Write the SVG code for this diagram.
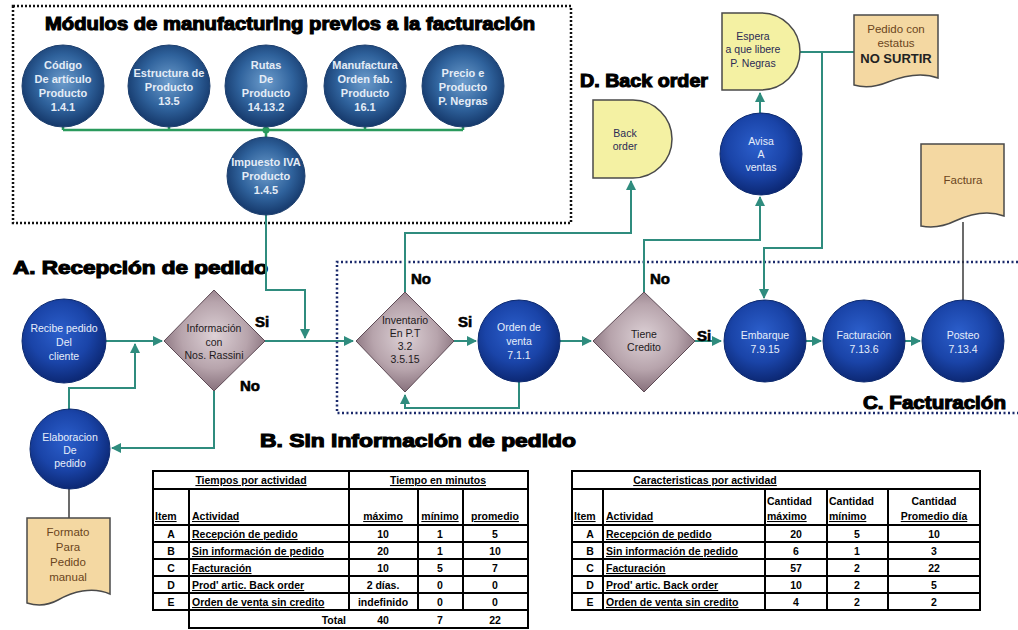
<svg xmlns="http://www.w3.org/2000/svg" width="1018" height="630" viewBox="0 0 1018 630">
  <defs>
    <radialGradient id="gMod" cx="50%" cy="45%" r="55%">
      <stop offset="0" stop-color="#6c9ccc"/>
      <stop offset="0.6" stop-color="#2f629c"/>
      <stop offset="1" stop-color="#15386a"/>
    </radialGradient>
    <radialGradient id="gBlue" cx="45%" cy="40%" r="60%">
      <stop offset="0" stop-color="#2c5fcc"/>
      <stop offset="0.6" stop-color="#1a44a8"/>
      <stop offset="1" stop-color="#0c2874"/>
    </radialGradient>
    <radialGradient id="gDia" cx="50%" cy="45%" r="60%">
      <stop offset="0" stop-color="#ddd1d6"/>
      <stop offset="0.55" stop-color="#b7a4ac"/>
      <stop offset="1" stop-color="#7b6470"/>
    </radialGradient>
    <marker id="arr" viewBox="0 0 10 10" refX="9" refY="5" markerWidth="5" markerHeight="5" orient="auto">
      <path d="M0,0 L10,5 L0,10 Z" fill="#2f8c7e"/>
    </marker>
    <style>
      .mod { fill: url(#gMod); stroke: #1d3f6e; stroke-width: 1; }
      .blue { fill: url(#gBlue); stroke: #0d2a70; stroke-width: 1; }
      .dia { fill: url(#gDia); stroke: #5e4a55; stroke-width: 1; }
      .delay { fill: #f4f1a3; stroke: #4a4a4a; stroke-width: 1.5; }
      .doc { fill: #f4d8a2; stroke: #4a4a4a; stroke-width: 1.5; }
      .mt { font-family: "Liberation Sans", Arial, sans-serif; font-size: 11px; font-weight: bold; fill: #e4ecf6; text-anchor: middle; }
      .ct { font-family: "Liberation Sans", Arial, sans-serif; font-size: 10.5px; fill: #e6eefa; text-anchor: middle; }
      .dt { font-family: "Liberation Sans", Arial, sans-serif; font-size: 10.5px; fill: #1e1a1c; text-anchor: middle; }
      .yt { font-family: "Liberation Sans", Arial, sans-serif; font-size: 10.5px; fill: #2a2a55; text-anchor: middle; }
      .bt { font-family: "Liberation Sans", Arial, sans-serif; font-size: 11.5px; fill: #6b4520; text-anchor: middle; }
      .h { font-family: "Liberation Sans", Arial, sans-serif; font-size: 18px; font-weight: bold; fill: #000; stroke: #000; stroke-width: 1.1; }
      .lbl { font-family: "Liberation Sans", Arial, sans-serif; font-size: 15px; font-weight: bold; fill: #000; stroke: #000; stroke-width: 0.6; }
      .con { fill: none; stroke: #2f8c7e; stroke-width: 2; }
      .grn { fill: none; stroke: #2a9a5c; stroke-width: 2.5; }
      .dk { fill: none; stroke: #3a3a3a; stroke-width: 1.5; }
      .tb { fill: none; stroke: #000; stroke-width: 2; }
      .tt { font-family: "Liberation Sans", Arial, sans-serif; font-size: 10.5px; font-weight: bold; fill: #000; }
      .u { text-decoration: underline; }
      .c { text-anchor: middle; }
    </style>
  </defs>

  <rect width="1018" height="630" fill="#ffffff"/>

  <!-- dotted region frames -->
  <g id="frames">
    <rect x="13" y="6" width="558" height="217" fill="none" stroke="#111" stroke-width="2.5" stroke-dasharray="2 2"/>
    <path d="M1018,262 H337 V413 H1018" fill="none" stroke="#1b2a6b" stroke-width="2.5" stroke-dasharray="2 2.5"/>
  </g>

  <!-- section titles -->
  <g id="titles">
    <text class="h" x="45" y="30" textLength="490" lengthAdjust="spacingAndGlyphs">Módulos de manufacturing previos a la facturación</text>
    <text class="h" x="13" y="274" textLength="255" lengthAdjust="spacingAndGlyphs">A. Recepción de pedido</text>
    <text class="h" x="260" y="447" textLength="316" lengthAdjust="spacingAndGlyphs">B. Sin información de pedido</text>
    <text class="h" x="863" y="409" textLength="143" lengthAdjust="spacingAndGlyphs">C. Facturación</text>
    <text class="h" x="580" y="87" textLength="128" lengthAdjust="spacingAndGlyphs">D. Back order</text>
  </g>

  <!-- connectors -->
  <g id="connectors">
    <path class="grn" d="M63,127 V130 M169,127 V130 M266,127 V130 M365,127 V130 M463,127 V130 M63,130 H463 M266,130 V137"/>
    <circle cx="266" cy="130" r="3.5" fill="#2a9a5c"/>
    <path class="con" d="M266,215 V290 H305 V338" marker-end="url(#arr)"/>
    <path class="con" d="M106,341 H162" marker-end="url(#arr)"/>
    <path class="con" d="M265,341 H353" marker-end="url(#arr)"/>
    <path class="con" d="M214,391 V448 H112" marker-end="url(#arr)"/>
    <path class="con" d="M69,410 V388 H135 V344" marker-end="url(#arr)"/>
    <path class="dk" d="M69,488 V518"/>
    <path class="con" d="M454,341 H476" marker-end="url(#arr)"/>
    <path class="con" d="M519,382 V408 H405 V395" marker-end="url(#arr)"/>
    <path class="con" d="M405,292 V233 H631 V181" marker-end="url(#arr)"/>
    <path class="con" d="M560,341 H591" marker-end="url(#arr)"/>
    <path class="con" d="M644,292 V240 H760 V197" marker-end="url(#arr)"/>
    <path class="con" d="M760,113 V93" marker-end="url(#arr)"/>
    <path class="con" d="M800,52 H854"/>
    <path class="con" d="M822,52 V248 H764 V298" marker-end="url(#arr)"/>
    <path class="con" d="M695,341 H721" marker-end="url(#arr)"/>
    <path class="con" d="M806,341 H821" marker-end="url(#arr)"/>
    <path class="con" d="M905,341 H920" marker-end="url(#arr)"/>
    <path class="dk" d="M963,300 V222"/>
  </g>

  <!-- manufacturing modules -->
  <g id="codigo">
    <circle class="mod" cx="63" cy="86" r="41"/>
    <text class="mt"><tspan x="63" y="69">Código</tspan><tspan x="63" y="83">De artículo</tspan><tspan x="63" y="97">Producto</tspan><tspan x="63" y="111">1.4.1</tspan></text>
  </g>
  <g id="estructura">
    <circle class="mod" cx="169" cy="86" r="41"/>
    <text class="mt"><tspan x="169" y="77">Estructura de</tspan><tspan x="169" y="91">Producto</tspan><tspan x="169" y="105">13.5</tspan></text>
  </g>
  <g id="rutas">
    <circle class="mod" cx="266" cy="86" r="41"/>
    <text class="mt"><tspan x="266" y="69">Rutas</tspan><tspan x="266" y="83">De</tspan><tspan x="266" y="97">Producto</tspan><tspan x="266" y="111">14.13.2</tspan></text>
  </g>
  <g id="manufactura">
    <circle class="mod" cx="365" cy="86" r="41"/>
    <text class="mt"><tspan x="365" y="69">Manufactura</tspan><tspan x="365" y="83">Orden fab.</tspan><tspan x="365" y="97">Producto</tspan><tspan x="365" y="111">16.1</tspan></text>
  </g>
  <g id="precio">
    <circle class="mod" cx="463" cy="86" r="41"/>
    <text class="mt"><tspan x="463" y="77">Precio e</tspan><tspan x="463" y="91">Producto</tspan><tspan x="463" y="105">P. Negras</tspan></text>
  </g>
  <g id="impuesto">
    <circle class="mod" cx="266" cy="176" r="39"/>
    <text class="mt"><tspan x="266" y="166">Impuesto IVA</tspan><tspan x="266" y="180">Producto</tspan><tspan x="266" y="194">1.4.5</tspan></text>
  </g>

  <!-- A. order reception -->
  <g id="recibe">
    <circle class="blue" cx="64" cy="341" r="42"/>
    <text class="ct"><tspan x="64" y="332">Recibe pedido</tspan><tspan x="64" y="346">Del</tspan><tspan x="64" y="360">cliente</tspan></text>
  </g>
  <g id="informacion">
    <polygon class="dia" points="164,341 214,290 265,341 214,391"/>
    <text class="dt"><tspan x="214" y="332">Información</tspan><tspan x="214" y="346">con</tspan><tspan x="214" y="359">Nos. Rassini</tspan></text>
  </g>
  <g id="elaboracion">
    <circle class="blue" cx="70" cy="449" r="40"/>
    <text class="ct"><tspan x="70" y="441">Elaboracion</tspan><tspan x="70" y="454">De</tspan><tspan x="70" y="467">pedido</tspan></text>
  </g>
  <g id="formato">
    <path class="doc" d="M27,518 H110 V594 C92,586 72,592 58,600 C47,606 37,606 27,603 Z"/>
    <text class="bt"><tspan x="68" y="536">Formato</tspan><tspan x="68" y="551">Para</tspan><tspan x="68" y="566">Pedido</tspan><tspan x="68" y="581">manual</tspan></text>
  </g>

  <!-- B / C flow -->
  <g id="inventario">
    <polygon class="dia" points="356,341 405,292 454,341 405,392"/>
    <text class="dt"><tspan x="405" y="324">Inventario</tspan><tspan x="405" y="337">En P.T</tspan><tspan x="405" y="350">3.2</tspan><tspan x="405" y="363">3.5.15</tspan></text>
  </g>
  <g id="orden">
    <circle class="blue" cx="519" cy="341" r="41"/>
    <text class="ct"><tspan x="519" y="331">Orden de</tspan><tspan x="519" y="345">venta</tspan><tspan x="519" y="359">7.1.1</tspan></text>
  </g>
  <g id="credito">
    <polygon class="dia" points="593,341 644,292 695,341 644,392"/>
    <text class="dt"><tspan x="644" y="338">Tiene</tspan><tspan x="644" y="351">Credito</tspan></text>
  </g>
  <g id="embarque">
    <circle class="blue" cx="765" cy="341" r="41"/>
    <text class="ct"><tspan x="765" y="339">Embarque</tspan><tspan x="765" y="353">7.9.15</tspan></text>
  </g>
  <g id="facturacion">
    <circle class="blue" cx="864" cy="341" r="41"/>
    <text class="ct"><tspan x="864" y="339">Facturación</tspan><tspan x="864" y="353">7.13.6</tspan></text>
  </g>
  <g id="posteo">
    <circle class="blue" cx="963" cy="341" r="41"/>
    <text class="ct"><tspan x="963" y="339">Posteo</tspan><tspan x="963" y="353">7.13.4</tspan></text>
  </g>
  <g id="factura">
    <path class="doc" d="M921,144 H1004 V216 C988,210 970,214 955,221 C943,227 932,228 921,226 Z"/>
    <text class="bt" x="963" y="184" font-size="12px">Factura</text>
  </g>

  <!-- D. back order -->
  <g id="backorder">
    <path class="delay" d="M593,100 H633 A39,39 0 0 1 633,178 H593 Z"/>
    <text class="yt"><tspan x="625" y="137">Back</tspan><tspan x="625" y="150">order</tspan></text>
  </g>
  <g id="avisa">
    <circle class="blue" cx="761" cy="154" r="41"/>
    <text class="ct"><tspan x="761" y="145">Avisa</tspan><tspan x="761" y="158">A</tspan><tspan x="761" y="171">ventas</tspan></text>
  </g>
  <g id="espera">
    <path class="delay" d="M722,13 H761 A39,38.5 0 0 1 761,90 H722 Z"/>
    <text class="yt"><tspan x="753" y="40">Espera</tspan><tspan x="753" y="53">a que libere</tspan><tspan x="753" y="67">P. Negras</tspan></text>
  </g>
  <g id="nosurtir">
    <path class="doc" d="M854,15 H938 V78 C922,72 903,76 888,82 C876,87 864,88 854,85 Z"/>
    <text class="bt"><tspan x="896" y="33">Pedido con</tspan><tspan x="896" y="47">estatus</tspan><tspan x="896" y="63" font-weight="bold" fill="#222" font-size="13px">NO SURTIR</tspan></text>
  </g>

  <!-- decision labels -->
  <g id="labels">
    <text class="lbl" x="255" y="327">Si</text>
    <text class="lbl" x="240" y="391">No</text>
    <text class="lbl" x="411" y="284">No</text>
    <text class="lbl" x="458" y="327">Si</text>
    <text class="lbl" x="650" y="284">No</text>
    <text class="lbl" x="697" y="341">Si</text>
  </g>

  <!-- times per activity table -->
  <g id="tabla-tiempos">
    <path class="tb" d="M153,471 H528 V610 H153 Z M153,489 H528 M153,525 H528 M153,542 H528 M153,559 H528 M153,576 H528 M153,593 H528 M189,489 V610 M349,471 V610 M418,489 V610 M463,489 V610 M189,610 V628 H528 V610"/>
    <text class="tt u c" x="251" y="484">Tiempos por actividad</text>
    <text class="tt u c" x="438" y="484">Tiempo en minutos</text>
    <text class="tt u" x="155" y="520">Item</text>
    <text class="tt u" x="192" y="520">Actividad</text>
    <text class="tt u c" x="383" y="520">máximo</text>
    <text class="tt u c" x="440" y="520">mínimo</text>
    <text class="tt u c" x="495" y="520">promedio</text>
    <g class="tt c">
      <text x="171" y="538">A</text><text x="171" y="555">B</text><text x="171" y="572">C</text><text x="171" y="589">D</text><text x="171" y="606">E</text>
      <text x="383" y="538">10</text><text x="440" y="538">1</text><text x="495" y="538">5</text>
      <text x="383" y="555">20</text><text x="440" y="555">1</text><text x="495" y="555">10</text>
      <text x="383" y="572">10</text><text x="440" y="572">5</text><text x="495" y="572">7</text>
      <text x="383" y="589">2 días.</text><text x="440" y="589">0</text><text x="495" y="589">0</text>
      <text x="383" y="606">indefinido</text><text x="440" y="606">0</text><text x="495" y="606">0</text>
      <text x="383" y="624">40</text><text x="440" y="624">7</text><text x="495" y="624">22</text>
    </g>
    <g class="tt u">
      <text x="192" y="538">Recepción de pedido</text>
      <text x="192" y="555">Sin información de pedido</text>
      <text x="192" y="572">Facturación</text>
      <text x="192" y="589">Prod' artic. Back order</text>
      <text x="192" y="606">Orden de venta sin credito</text>
    </g>
    <text class="tt" x="346" y="624" text-anchor="end">Total</text>
  </g>

  <!-- characteristics per activity table -->
  <g id="tabla-caracteristicas">
    <path class="tb" d="M572,471 H980 V610 H572 Z M572,489 H980 M572,525 H980 M572,542 H980 M572,559 H980 M572,576 H980 M572,593 H980 M603,489 V610 M765,489 V610 M827,489 V610 M888,489 V610"/>
    <text class="tt u c" x="705" y="484">Caracteristicas por actividad</text>
    <text class="tt u" x="574" y="520">Item</text>
    <text class="tt u" x="606" y="520">Actividad</text>
    <text class="tt" x="767" y="505">Cantidad</text>
    <text class="tt u" x="767" y="520">máximo</text>
    <text class="tt" x="829" y="505">Cantidad</text>
    <text class="tt u" x="829" y="520">mínimo</text>
    <text class="tt c" x="934" y="505">Cantidad</text>
    <text class="tt u c" x="934" y="520">Promedio día</text>
    <g class="tt c">
      <text x="590" y="538">A</text><text x="590" y="555">B</text><text x="590" y="572">C</text><text x="590" y="589">D</text><text x="590" y="606">E</text>
      <text x="796" y="538">20</text><text x="857" y="538">5</text><text x="934" y="538">10</text>
      <text x="796" y="555">6</text><text x="857" y="555">1</text><text x="934" y="555">3</text>
      <text x="796" y="572">57</text><text x="857" y="572">2</text><text x="934" y="572">22</text>
      <text x="796" y="589">10</text><text x="857" y="589">2</text><text x="934" y="589">5</text>
      <text x="796" y="606">4</text><text x="857" y="606">2</text><text x="934" y="606">2</text>
    </g>
    <g class="tt u">
      <text x="606" y="538">Recepción de pedido</text>
      <text x="606" y="555">Sin información de pedido</text>
      <text x="606" y="572">Facturación</text>
      <text x="606" y="589">Prod' artic. Back order</text>
      <text x="606" y="606">Orden de venta sin credito</text>
    </g>
  </g>
</svg>
